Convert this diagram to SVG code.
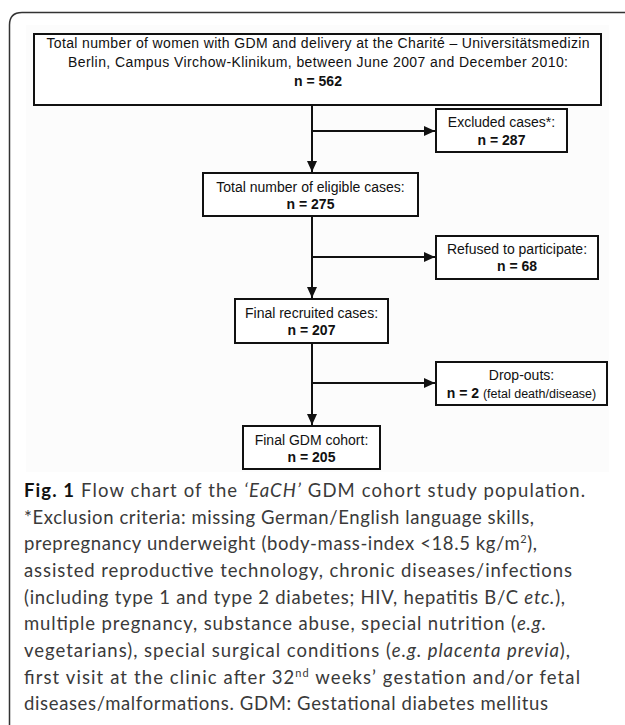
<svg xmlns="http://www.w3.org/2000/svg" width="625" height="725" viewBox="0 0 625 725">
<defs>
<style>
.box{fill:#fff;stroke:#111;stroke-width:2}
.t{font-family:"Liberation Sans",Arial,sans-serif;font-size:14px;fill:#111;text-anchor:middle}
.b{font-weight:bold}
.sm{font-size:12.5px;font-weight:normal}
.cn{fill:none;stroke:#111;stroke-width:2}
.cap{font-family:Lato,"Open Sans",sans-serif;font-size:18.5px;fill:#3a3a3a}
.it{font-style:italic}
.sup{font-size:11px}
</style>
<marker id="ah" markerUnits="userSpaceOnUse" markerWidth="12" markerHeight="10" refX="11" refY="5" orient="auto">
<path d="M0,0 L11,5 L0,10 Z" fill="#111"/>
</marker>
</defs>
<rect x="0" y="0" width="625" height="725" fill="#fff"/>
<path d="M9.5,740 V25 Q9.5,12.5 22,12.5 H640" fill="none" stroke="#333" stroke-width="1.5"/>
<rect x="26" y="25" width="583" height="447" fill="#fcfcfc"/>

<g id="connectors">
<path class="cn" d="M312,105 V172" marker-end="url(#ah)"/>
<path class="cn" d="M312,131 H435" marker-end="url(#ah)"/>
<path class="cn" d="M312,216 V298" marker-end="url(#ah)"/>
<path class="cn" d="M312,257 H435" marker-end="url(#ah)"/>
<path class="cn" d="M312,343 V425" marker-end="url(#ah)"/>
<path class="cn" d="M312,383 H435" marker-end="url(#ah)"/>
</g>

<g id="total">
<rect class="box" x="34" y="34" width="567" height="71"/>
<text class="t" x="318" y="48" textLength="543">Total number of women with GDM and delivery at  the Charité – Universitätsmedizin</text>
<text class="t" x="318" y="67" textLength="500">Berlin, Campus Virchow-Klinikum,  between June 2007 and December 2010:</text>
<text class="t b" x="318" y="86">n = 562</text>
</g>

<g id="excluded">
<rect class="box" x="436" y="109" width="131" height="43"/>
<text class="t" x="501.5" y="127">Excluded cases*:</text>
<text class="t b" x="501.5" y="145">n = 287</text>
</g>

<g id="eligible">
<rect class="box" x="203" y="173" width="215" height="43"/>
<text class="t" x="310.5" y="192">Total number of eligible cases:</text>
<text class="t b" x="310.5" y="209">n = 275</text>
</g>

<g id="refused">
<rect class="box" x="436" y="236" width="162" height="43"/>
<text class="t" x="517" y="254">Refused to participate:</text>
<text class="t b" x="517" y="271">n = 68</text>
</g>

<g id="recruited">
<rect class="box" x="235" y="299" width="153" height="44"/>
<text class="t" x="311.5" y="318">Final recruited cases:</text>
<text class="t b" x="311.5" y="335">n = 207</text>
</g>

<g id="dropouts">
<rect class="box" x="436" y="362" width="171" height="43"/>
<text class="t" x="521.5" y="380">Drop-outs:</text>
<text class="t b" x="521.5" y="398">n = 2 <tspan class="sm">(fetal death/disease)</tspan></text>
</g>

<g id="final">
<rect class="box" x="243" y="426" width="137" height="43"/>
<text class="t" x="311.5" y="445">Final GDM cohort:</text>
<text class="t b" x="311.5" y="462">n = 205</text>
</g>

<g id="caption">
<text class="cap" x="24" y="497" textLength="561"><tspan font-weight="bold" fill="#111">Fig. 1</tspan> Flow chart of the <tspan class="it">‘EaCH’</tspan> GDM cohort study population.</text>
<text class="cap" x="24" y="524" textLength="510">*Exclusion criteria: missing German/English language skills,</text>
<text class="cap" x="24" y="550" textLength="513">prepregnancy underweight (body-mass-index &lt;18.5 kg/m<tspan class="sup" dy="-7">2</tspan><tspan dy="7">),</tspan></text>
<text class="cap" x="24" y="577" textLength="548">assisted reproductive technology, chronic diseases/infections</text>
<text class="cap" x="24" y="604" textLength="541">(including type 1 and type 2 diabetes; HIV, hepatitis B/C <tspan class="it">etc.</tspan>),</text>
<text class="cap" x="24" y="630" textLength="522">multiple pregnancy, substance abuse, special nutrition (<tspan class="it">e.g.</tspan></text>
<text class="cap" x="24" y="657" textLength="546">vegetarians), special surgical conditions (<tspan class="it">e.g. placenta  previa</tspan>),</text>
<text class="cap" x="24" y="684" textLength="556">first visit at the clinic after 32<tspan class="sup" dy="-7">nd</tspan><tspan dy="7"> weeks’ gestation and/or fetal</tspan></text>
<text class="cap" x="24" y="710" textLength="524">diseases/malformations. GDM: Gestational diabetes mellitus</text>
</g>
</svg>
